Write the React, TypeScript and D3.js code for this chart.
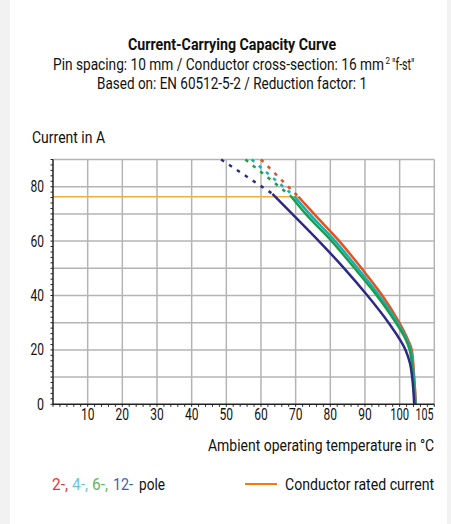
import React, { useLayoutEffect, useRef, useState } from "react";
import * as d3 from "d3";

const seriesNames = ["2-pole", "4-pole", "6-pole", "12-pole"];
// solid part: [current A] and [temperature °C]
const currentRed = [76.3, 70, 60, 50, 40, 30, 24, 20, 10, 0];
const tempRed = [70.8, 75.3, 82.6, 89.0, 95.0, 99.9, 102.3, 103.5, 104.2, 104.7];
const currentCyan = [76.5, 70, 60, 50, 40, 30, 24, 20, 10, 0];
const tempCyan = [69.6, 74.0, 81.4, 87.9, 94.1, 99.4, 102.0, 103.2, 104.1, 104.6];
const currentGreen = [76.6, 70, 60, 50, 40, 30, 24, 20, 10, 0];
const tempGreen = [68.6, 72.9, 80.4, 87.0, 93.4, 98.9, 101.7, 102.9, 103.9, 104.4];
const currentBlue = [77.4, 70, 60, 50, 40, 30, 20, 15, 10, 0];
const tempBlue = [63.3, 69.0, 76.7, 84.0, 90.7, 96.8, 101.7, 103.0, 103.6, 104.2];
// dashed part starts at top of chart (90 A)
const dashTopT = [60.0, 57.3, 55.5, 48.5];
const dashTopI = 90;
const ratedCurrent = 76.3;
const ratedEndT = 70.8;

const xTicks = [10, 20, 30, 40, 50, 60, 70, 80, 90, 100];
const yTicks = [0, 20, 40, 60, 80];
const xGrid = [10, 20, 30, 40, 50, 60, 70, 80, 90, 100, 110];
const yGrid = [10, 20, 30, 40, 50, 60, 70, 80, 90];

const colors = ["#e8501e", "#19aeb4", "#1c9e4c", "#2d2a86"];
const FONT = "Roboto, 'Noto Sans', sans-serif";
const FS = 16;

function CText(props: any) {
  const { x, y, w, anchor = "start", children, fontSize = FS, ...rest } = props;
  const ref = useRef<SVGTextElement>(null);
  const [s, setS] = useState(0.8);
  useLayoutEffect(() => {
    if (ref.current) {
      const L = ref.current.getComputedTextLength();
      if (L > 0) setS(w / L);
    }
  }, [w, children]);
  return (
    <text
      ref={ref}
      transform={`translate(${x},${y}) scale(${s},1)`}
      fontFamily={FONT}
      fontSize={fontSize}
      fill="#111"
      textAnchor={anchor}
      {...rest}
    >
      {children}
    </text>
  );
}

export default function App() {
  const x = d3.scaleLinear().domain([0, 110]).range([53, 434.3]);
  const y = d3.scaleLinear().domain([0, 90]).range([404.3, 159.5]);
  const series = [
    [currentRed, tempRed],
    [currentCyan, tempCyan],
    [currentGreen, tempGreen],
    [currentBlue, tempBlue],
  ];
  const line = d3
    .line<[number, number]>()
    .x((d) => x(d[0]))
    .y((d) => y(d[1]))
    .curve(d3.curveMonotoneY);
  const straight = d3
    .line<[number, number]>()
    .x((d) => x(d[0]))
    .y((d) => y(d[1]));

  const minorY = d3.range(0, 91, 2);
  const minorX = d3.range(0, 111, 2);

  const labelW = (v: number) => (String(v).length === 1 ? 7 : String(v).length === 2 ? 13.5 : 20);

  return (
    <svg
      width={451}
      height={524}
      style={{ position: "absolute", left: 0, top: 0, background: "#fff" }}
    >
      <rect x={0} y={0} width={451} height={524} fill="#fff" />
      <rect x={0} y={0} width={10} height={524} fill="#f2f2f2" />
      <rect x={447} y={0} width={4} height={524} fill="#f2f2f2" />

      <CText x={128} y={50} fontWeight="bold" w={208}>
        Current-Carrying Capacity Curve
      </CText>
      <CText x={53} y={70} w={331}>
        Pin spacing: 10 mm / Conductor cross-section: 16 mm
      </CText>
      <CText x={385.5} y={63.5} fontSize={9} w={4.5}>
        2
      </CText>
      <CText x={392} y={70} w={22.5}>
        "f-st"
      </CText>
      <CText x={97} y={89} w={270}>
        Based on: EN 60512-5-2 / Reduction factor: 1
      </CText>
      <CText x={32} y={143} w={73}>
        Current in A
      </CText>

      {/* grid */}
      {xGrid.map((v) => (
        <line
          key={"gx" + v}
          x1={x(v)}
          x2={x(v)}
          y1={y(0)}
          y2={y(90)}
          stroke="#b4b4b4"
          strokeWidth={1.5}
        />
      ))}
      {yGrid.map((v) => (
        <line
          key={"gy" + v}
          x1={x(0)}
          x2={x(110)}
          y1={y(v)}
          y2={y(v)}
          stroke="#b4b4b4"
          strokeWidth={1.5}
        />
      ))}

      {/* rated current */}
      <line
        x1={x(0)}
        x2={x(ratedEndT)}
        y1={y(ratedCurrent)}
        y2={y(ratedCurrent)}
        stroke="#f5ad3c"
        strokeWidth={1.5}
      />

      {/* curves */}
      {series.map(([cs, ts], i) => {
        const pts: [number, number][] = ts.map(
          (t, k) => [t, cs[k]] as [number, number]
        );
        return (
          <g key={seriesNames[i]}>
            <path
              d={straight([[dashTopT[i], dashTopI], pts[0]])!}
              fill="none"
              stroke={colors[i]}
              strokeWidth={2.5}
              strokeDasharray="3.5,6"
            />
            <path
              d={line(pts)!}
              fill="none"
              stroke={colors[i]}
              strokeWidth={2.5}
            />
          </g>
        );
      })}

      {/* axes */}
      <line x1={x(0)} x2={x(0)} y1={y(0)} y2={y(90)} stroke="#222" strokeWidth={1.5} />
      <line x1={x(0)} x2={x(110)} y1={y(0)} y2={y(0)} stroke="#222" strokeWidth={1.5} />
      {minorY.map((v) => (
        <line key={"my" + v} x1={x(0) - 2.5} x2={x(0)} y1={y(v)} y2={y(v)} stroke="#222" strokeWidth={1} />
      ))}
      {minorX.map((v) => (
        <line key={"mx" + v} x1={x(v)} x2={x(v)} y1={y(0)} y2={y(0) + 2.5} stroke="#222" strokeWidth={1} />
      ))}

      {yTicks.map((v) => (
        <CText key={"yt" + v} x={x(0) - 9} y={y(v) + 5.5} anchor="end" w={labelW(v)}>
          {String(v)}
        </CText>
      ))}
      {xTicks.map((v) => (
        <CText key={"xt" + v} x={x(v)} y={420} anchor="middle" w={v === 100 ? 19 : labelW(v)}>
          {String(v)}
        </CText>
      ))}
      <CText x={x(105) + 7.5} y={420} anchor="middle" w={18}>
        105
      </CText>

      <CText x={208} y={451} w={226}>
        Ambient operating temperature in °C
      </CText>

      {/* legend */}
      <CText x={52} y={490} fill="#e8333a" w={16}>2-,</CText>
      <CText x={72} y={490} fill="#6cc7dd" w={16}>4-,</CText>
      <CText x={92} y={490} fill="#5cb85c" w={16}>6-,</CText>
      <CText x={113} y={490} fill="#3b5fae" w={20}>12-</CText>
      <CText x={139} y={490} w={26}>pole</CText>
      <line x1={245} x2={277} y1={484} y2={484} stroke="#f07d00" strokeWidth={2} />
      <CText x={285} y={490} w={149}>
        Conductor rated current
      </CText>
    </svg>
  );
}
